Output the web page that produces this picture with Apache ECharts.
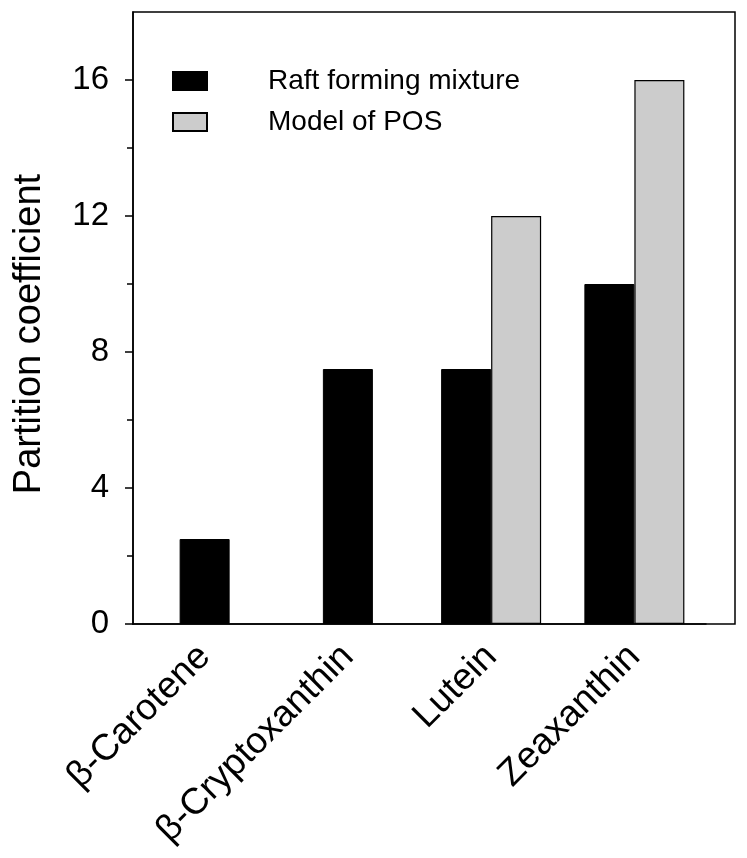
<!DOCTYPE html>
<html>
<head>
<meta charset="utf-8">
<script src="https://cdn.jsdelivr.net/npm/echarts@6/dist/echarts.min.js"></script>
<style>
  html, body { margin: 0; padding: 0; background: #fff; }
  #chart { width: 747px; height: 858px; }
</style>
</head>
<body>
<div id="chart"></div>
<script>
// data
const categories = ['β-Carotene', 'β-Cryptoxanthin', 'Lutein', 'Zeaxanthin'];
// first two compounds only have the raft value (single centred bar)
const raftSingle = [2.5, 7.5, null, null];
const raftPaired = [null, null, 7.5, 10];
const modelPOS = [null, null, 12, 16];
const yMajorTicks = [0, 4, 8, 12, 16];
const yMinorTicks = [2, 6, 10, 14];

const font = 'Liberation Sans, Arial, sans-serif';

let chartDom = document.getElementById('chart');
let myChart = echarts.init(chartDom, null, { renderer: 'canvas' });

let option = {
  backgroundColor: '#fff',
  textStyle: { fontFamily: font, color: '#000' },
  animation: false,
  legend: {
    orient: 'vertical',
    left: 167,
    top: 62,
    itemWidth: 34,
    itemHeight: 18,
    itemGap: 13,
    icon: 'rect',
    data: ['Raft forming mixture', 'Model of POS'],
    textStyle: { fontSize: 28, color: '#000', fontFamily: font, padding: [0, 0, 0, 56] },
  },
  grid: [
    { left: 133, right: 41, top: 12, bottom: 234, containLabel: false },
    // outer box, the plot frame is wider than the category band
    { left: 133, right: 12, top: 12, bottom: 234, show: true, borderColor: '#000', borderWidth: 1.5, backgroundColor: 'transparent' },
  ],
  xAxis: [
    {
      type: 'category',
      gridIndex: 0,
      data: categories,
      axisLine: { lineStyle: { color: '#000', width: 1.5 } },
      axisTick: { show: false },
      axisLabel: { rotate: 45, fontSize: 37, color: '#000', margin: 27, fontFamily: font, interval: 0 },
    },
    {
      type: 'category',
      gridIndex: 0,
      data: categories,
      show: false,
    },
  ],
  yAxis: [
    {
      type: 'value',
      gridIndex: 0,
      position: 'left',
      min: 0,
      max: 18,
      interval: 2,
      name: 'Partition coefficient',
      nameLocation: 'middle',
      nameGap: 84,
      nameTextStyle: { fontSize: 38, color: '#000', fontFamily: font, padding: [0, 32, 0, 0] },
      axisLine: { show: true, lineStyle: { color: '#000', width: 1.5 } },
      axisTick: { show: true, customValues: yMajorTicks, length: 8, lineStyle: { color: '#000', width: 1.5 } },
      axisLabel: { customValues: yMajorTicks, fontSize: 33, color: '#000', margin: 24, fontFamily: font },
      splitLine: { show: false },
    },
    {
      type: 'value',
      gridIndex: 0,
      position: 'left',
      min: 0,
      max: 18,
      interval: 2,
      axisLine: { show: false },
      axisTick: { show: true, customValues: yMinorTicks, length: 6, lineStyle: { color: '#000', width: 1.5 } },
      axisLabel: { show: false },
      splitLine: { show: false },
    },
  ],
  series: [
    {
      name: 'Raft forming mixture',
      type: 'bar',
      xAxisIndex: 0,
      data: raftPaired,
      barWidth: 50,
      barGap: 0,
      itemStyle: { color: '#000', borderColor: '#000', borderWidth: 1 },
    },
    {
      name: 'Model of POS',
      type: 'bar',
      xAxisIndex: 0,
      data: modelPOS,
      barWidth: 50,
      barGap: 0,
      itemStyle: { color: '#cccccc', borderColor: '#000', borderWidth: 1.2 },
    },
    {
      name: 'Raft forming mixture',
      type: 'bar',
      xAxisIndex: 1,
      data: raftSingle,
      barWidth: 50,
      itemStyle: { color: '#000', borderColor: '#000', borderWidth: 1 },
    },
  ],
};

option && myChart.setOption(option);
</script>
</body>
</html>
